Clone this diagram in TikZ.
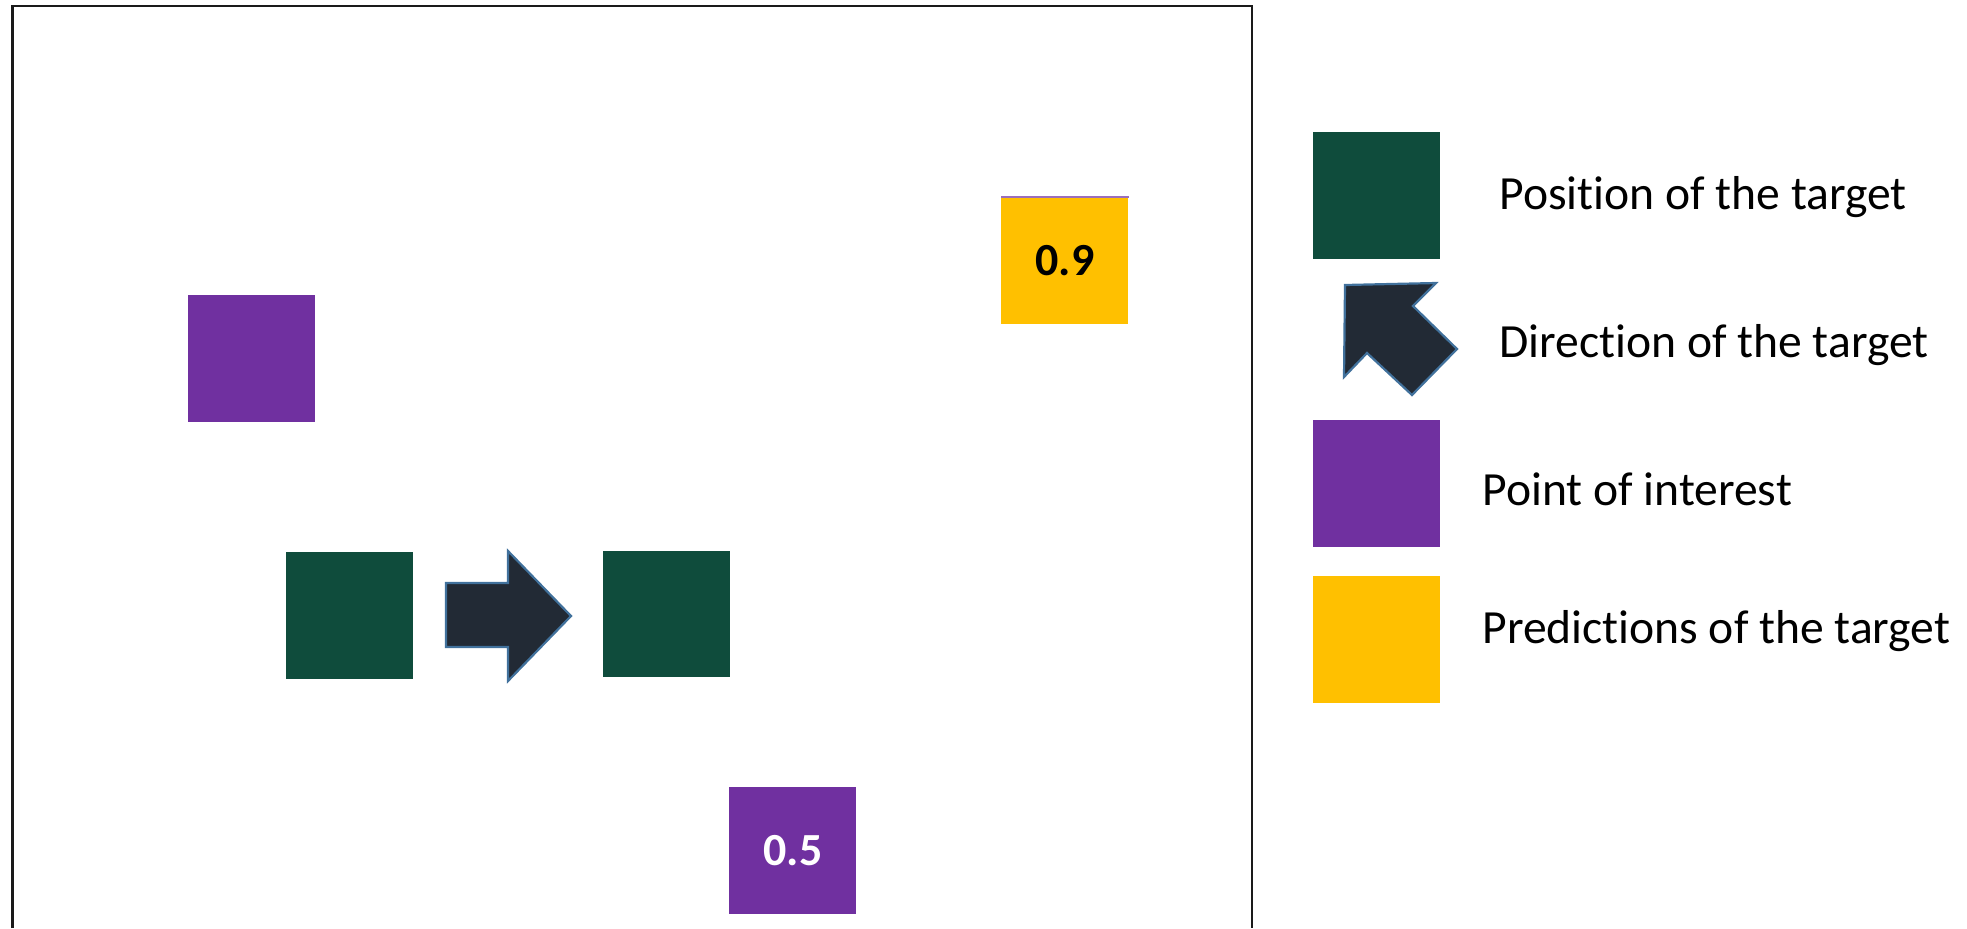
\documentclass[tikz,border=0pt]{standalone}
\usepackage{fontspec}
\setmainfont{Carlito}[Ligatures=NoCommon]
\definecolor{tgreen}{HTML}{0F4C3C}
\definecolor{tpurple}{HTML}{7030A0}
\definecolor{tyellow}{HTML}{FFC000}
\definecolor{arrowfill}{HTML}{222A35}
\definecolor{arrowline}{HTML}{41719C}
\definecolor{framecol}{HTML}{1A1A1A}
\begin{document}
\begin{tikzpicture}[x=0.5pt,y=-0.5pt,
  sq/.style={draw=none, inner sep=0pt, anchor=north west, minimum width=63.5pt, minimum height=63.5pt,
    font=\fontsize{23}{28}\selectfont\bfseries},
  greensq/.style={sq, fill=tgreen},
  purplesq/.style={sq, fill=tpurple, text=white},
  yellowsq/.style={sq, fill=tyellow, text=black},
  legtext/.style={anchor=west, inner sep=0pt, font=\fontsize{23.8}{28}\selectfont},
  dirarrow/.style={fill=arrowfill, draw=arrowline, line width=1.1pt, line join=miter},
  frameline/.style={draw=framecol, line width=1.3pt}
]
\path[use as bounding box] (0,0) rectangle (1967,928);
% frame (open at the bottom)
\coordinate (fbl) at (12.5,928);
\coordinate (ftl) at (12.5,6);
\coordinate (ftr) at (1252,6);
\coordinate (fbr) at (1252,928);
\draw[frameline] (fbl) -- (ftl) -- (ftr) -- (fbr);
% scene
\node[purplesq] (poi1) at (188,295) {};
\node[greensq] (pos1) at (286,552) {};
\node[greensq, minimum height=63pt] (pos2) at (603,551) {};
\node[purplesq] (poi2) at (729,787) {0.5};
\node[yellowsq] (pred1) at (1001,197) {0.9};
\draw[tpurple!70, line width=0.9pt] (pred1.north west) -- (pred1.north east);
\path[dirarrow] (446,583) -- (508,583) -- (508,551) -- (571,616) -- (508,681) -- (508,647) -- (446,647) -- cycle;
% legend
\node[greensq] (lgpos) at (1313,132) {};
\path[dirarrow] (1345,285) -- (1436,283) -- (1413,306) -- (1457,349) -- (1412,395) -- (1367,353) -- (1344,377) -- cycle;
\node[purplesq] (lgpoi) at (1313,420) {};
\node[yellowsq] (lgpred) at (1313,576) {};
\node[legtext] (tpos) at (1499,197) {Position of the target};
\node[legtext] (tdir) at (1499,345) {Direction of the target};
\node[legtext] (tpoi) at (1482,489) {Point of interest};
\node[legtext] (tpred) at (1482,631) {Predictions of the target};
\end{tikzpicture}
\end{document}
